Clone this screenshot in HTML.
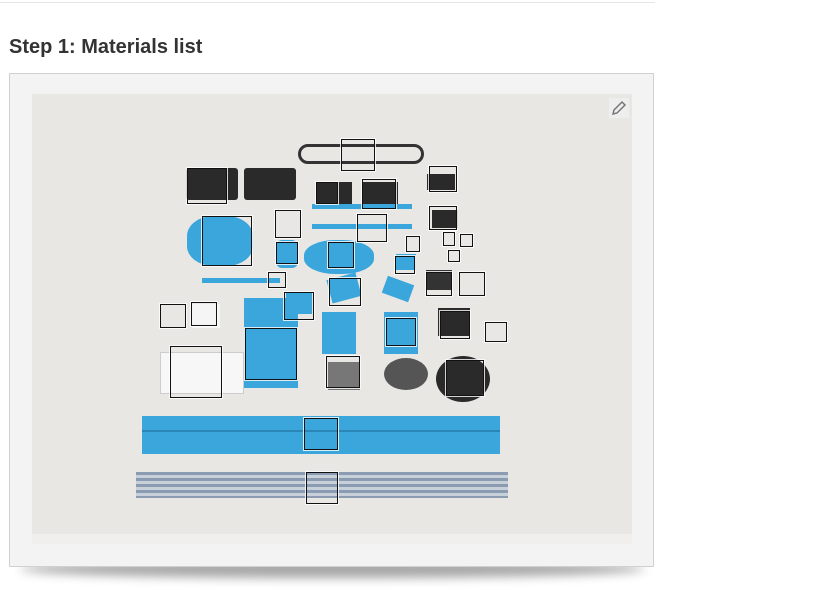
<!DOCTYPE html>
<html><head><meta charset="utf-8">
<style>
html,body{margin:0;padding:0;width:817px;height:590px;overflow:hidden;background:#fff;font-family:"Liberation Sans",sans-serif;}
.abs{position:absolute;}
.b{background:#3aa6dc;}
.k{background:#2a2a2a;}
.box{position:absolute;border:1px solid #111;outline:1px solid rgba(255,255,255,.8);box-sizing:border-box;}
</style></head>
<body>
<div class="abs" style="left:0;top:2px;width:655px;height:1px;background:#e6e6e6"></div>
<div class="abs" style="left:9px;top:36px;font-size:20px;font-weight:bold;color:#333">Step 1: Materials list</div>
<div class="abs" style="left:20px;top:560px;width:625px;height:18px;border-radius:50%;background:rgba(0,0,0,.35);filter:blur(5px)"></div>
<div class="abs" style="left:9px;top:73px;width:645px;height:494px;background:#f3f3f3;border:1px solid #d0d0d0;box-sizing:border-box"></div>
<div class="abs" style="left:32px;top:94px;width:600px;height:450px;background:#e9e7e4;overflow:hidden">
  <div class="abs" style="left:0;top:440px;width:600px;height:10px;background:#f0efed"></div>
  <!-- drivers -->
  <div class="abs k" style="left:154px;top:74px;width:52px;height:32px;border-radius:3px"></div>
  <div class="abs k" style="left:212px;top:74px;width:52px;height:32px;border-radius:3px"></div>
  <div class="abs k" style="left:284px;top:88px;width:36px;height:24px"></div>
  <div class="abs k" style="left:330px;top:88px;width:36px;height:24px"></div>
  <div class="abs k" style="left:395px;top:80px;width:28px;height:16px"></div>
  <div class="abs k" style="left:400px;top:116px;width:26px;height:18px"></div>
  <!-- cable -->
  <div class="abs" style="left:266px;top:50px;width:120px;height:14px;border:3px solid #333;border-radius:10px"></div>
  <!-- blue plates -->
  <div class="abs b" style="left:155px;top:122px;width:66px;height:50px;border-radius:40%"></div>
  <div class="abs b" style="left:272px;top:146px;width:70px;height:34px;border-radius:45%"></div>
  <div class="abs b" style="left:244px;top:146px;width:22px;height:28px;border-radius:6px"></div>
  <div class="abs b" style="left:280px;top:110px;width:100px;height:5px"></div>
  <div class="abs b" style="left:280px;top:130px;width:100px;height:5px"></div>
  <div class="abs b" style="left:170px;top:184px;width:78px;height:5px"></div>
  <div class="abs b" style="left:297px;top:182px;width:30px;height:24px;transform:rotate(-15deg)"></div>
  <div class="abs b" style="left:352px;top:186px;width:28px;height:18px;transform:rotate(20deg)"></div>
  <div class="abs b" style="left:254px;top:198px;width:26px;height:22px"></div>
  <div class="abs b" style="left:290px;top:218px;width:34px;height:42px"></div>
  <div class="abs b" style="left:352px;top:218px;width:34px;height:42px"></div>
  <div class="abs b" style="left:212px;top:204px;width:54px;height:90px"></div>
  <div class="abs b" style="left:364px;top:160px;width:20px;height:16px"></div>
  <!-- white blocks -->
  <div class="abs" style="left:128px;top:258px;width:82px;height:40px;background:#f7f7f7;border:1px solid #ccc"></div>
  <div class="abs" style="left:160px;top:210px;width:28px;height:24px;background:#f5f5f5"></div>
  <!-- motors -->
  <div class="abs k" style="left:296px;top:268px;width:32px;height:28px;background:#777"></div>
  <div class="abs k" style="left:352px;top:264px;width:44px;height:32px;border-radius:50%;background:#555"></div>
  <div class="abs k" style="left:404px;top:262px;width:54px;height:46px;border-radius:50%"></div>
  <div class="abs k" style="left:394px;top:176px;width:26px;height:20px;background:#333"></div>
  <div class="abs k" style="left:406px;top:214px;width:32px;height:28px"></div>
  <!-- rails -->
  <div class="abs b" style="left:110px;top:322px;width:358px;height:38px"></div>
  <div class="abs" style="left:110px;top:336px;width:358px;height:2px;background:#2b86b8"></div>
  <div class="abs" style="left:104px;top:378px;width:372px;height:26px;background:repeating-linear-gradient(#8a9bb2 0 3px,#c8d0da 3px 6px)"></div>
  <!-- annotation boxes -->
  <div class="box" style="left:309px;top:45px;width:34px;height:32px"></div>
  <div class="box" style="left:155px;top:74px;width:40px;height:36px"></div>
  <div class="box" style="left:284px;top:88px;width:22px;height:22px"></div>
  <div class="box" style="left:330px;top:85px;width:34px;height:30px"></div>
  <div class="box" style="left:397px;top:72px;width:28px;height:26px"></div>
  <div class="box" style="left:397px;top:112px;width:28px;height:24px"></div>
  <div class="box" style="left:170px;top:122px;width:50px;height:50px"></div>
  <div class="box" style="left:243px;top:116px;width:26px;height:28px"></div>
  <div class="box" style="left:325px;top:120px;width:30px;height:28px"></div>
  <div class="box" style="left:244px;top:148px;width:22px;height:22px"></div>
  <div class="box" style="left:296px;top:148px;width:26px;height:26px"></div>
  <div class="box" style="left:374px;top:142px;width:14px;height:16px"></div>
  <div class="box" style="left:411px;top:138px;width:12px;height:14px"></div>
  <div class="box" style="left:428px;top:140px;width:13px;height:13px"></div>
  <div class="box" style="left:416px;top:156px;width:12px;height:12px"></div>
  <div class="box" style="left:363px;top:162px;width:20px;height:18px"></div>
  <div class="box" style="left:236px;top:178px;width:18px;height:16px"></div>
  <div class="box" style="left:394px;top:178px;width:26px;height:24px"></div>
  <div class="box" style="left:427px;top:178px;width:26px;height:24px"></div>
  <div class="box" style="left:297px;top:184px;width:32px;height:28px"></div>
  <div class="box" style="left:252px;top:198px;width:30px;height:28px"></div>
  <div class="box" style="left:128px;top:210px;width:26px;height:24px"></div>
  <div class="box" style="left:159px;top:208px;width:26px;height:24px"></div>
  <div class="box" style="left:408px;top:217px;width:30px;height:28px"></div>
  <div class="box" style="left:453px;top:228px;width:22px;height:20px"></div>
  <div class="box" style="left:354px;top:224px;width:30px;height:28px"></div>
  <div class="box" style="left:213px;top:234px;width:52px;height:52px"></div>
  <div class="box" style="left:138px;top:252px;width:52px;height:52px"></div>
  <div class="box" style="left:294px;top:262px;width:34px;height:32px"></div>
  <div class="box" style="left:414px;top:266px;width:38px;height:36px"></div>
  <div class="box" style="left:272px;top:324px;width:34px;height:32px"></div>
  <div class="box" style="left:274px;top:378px;width:32px;height:32px"></div>
  <!-- pencil icon -->
  <svg class="abs" style="left:577px;top:4px" width="20" height="20" viewBox="0 0 20 20"><rect x="0" y="0" width="20" height="20" fill="#eeeeee"/><path d="M4 16 L5 12 L13 4 L16 7 L8 15 Z" fill="none" stroke="#777" stroke-width="1.5"/></svg>
</div>
</body></html>
